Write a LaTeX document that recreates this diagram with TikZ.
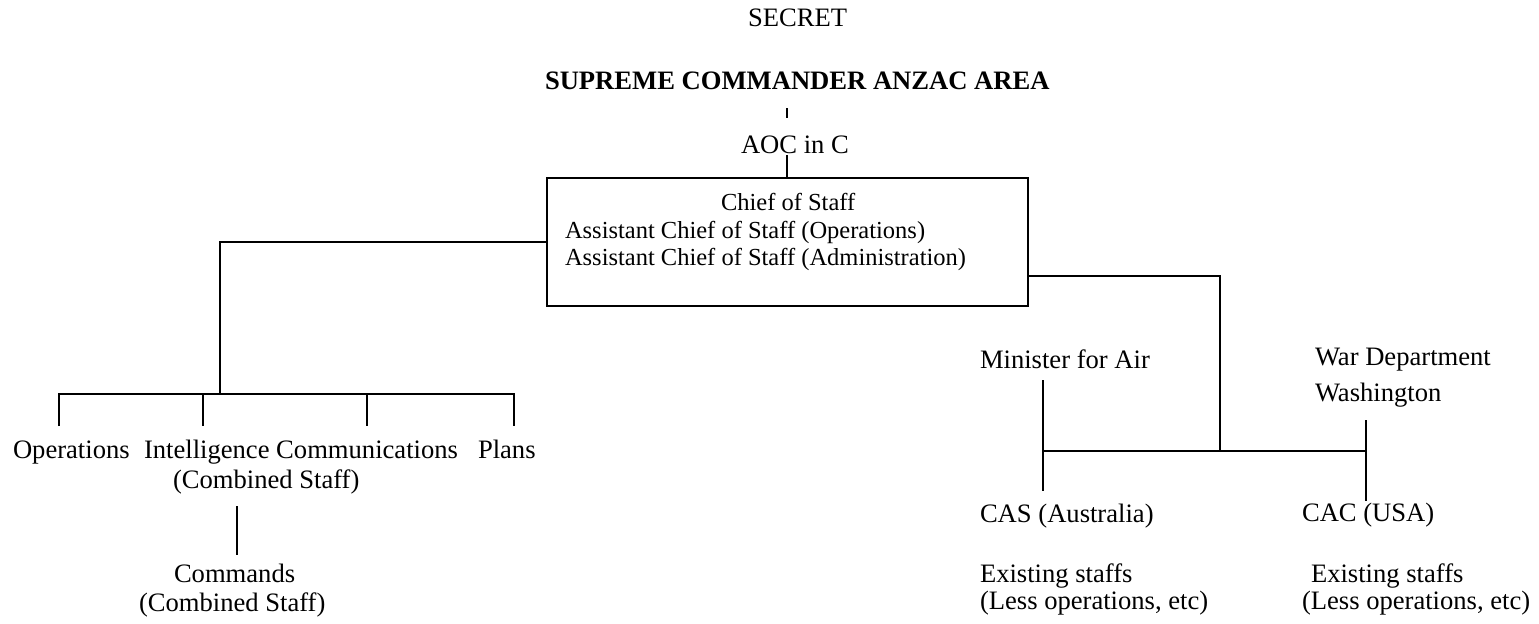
\documentclass[tikz,border=0pt]{standalone}
\usepackage{fontspec}
\setmainfont{Liberation Serif}
\begin{document}
\begin{tikzpicture}[x=0.5pt,y=-0.5pt,line width=1pt,
  lbl/.style={anchor=base west,inner sep=0pt,font=\fontsize{13.3}{15}\selectfont},
  boldlbl/.style={anchor=base west,inner sep=0pt,font=\fontsize{13.3}{15}\selectfont\bfseries},
  boxlbl/.style={anchor=base west,inner sep=0pt,font=\fontsize{12.25}{14}\selectfont},
  staffbox/.style={draw,line width=1pt,minimum width=240.5pt,minimum height=64pt,inner sep=0pt},
  conn/.style={draw,line width=1pt}]
\useasboundingbox (0,0) rectangle (1539,623);

% top texts
\node[lbl] (secret) at (747,26) {SECRET};
\node[boldlbl] (sca) at (544,89) {SUPREME COMMANDER ANZAC AREA};
\node[lbl] (aoc) at (740,153) {AOC in C};

% staff box
\node[staffbox] (cos) at (787.5,242) {};
\node[boxlbl] (chief) at (720,210) {Chief of Staff};
\node[boxlbl] (acso) at (564,238) {Assistant Chief of Staff (Operations)};
\node[boxlbl] (acsa) at (564,265) {Assistant Chief of Staff (Administration)};

% left branch texts
\node[lbl] (ops) at (12,458) {Operations};
\node[lbl] (intel) at (143,458) {Intelligence};
\node[lbl,anchor=base east] (comms) at (459,458) {Communications};
\node[lbl] (plans) at (477,458) {Plans};
\node[lbl] (comb1) at (172,488) {(Combined Staff)};
\node[lbl] (cmds) at (173,582) {Commands};
\node[lbl] (comb2) at (138,611) {(Combined Staff)};

% right branch texts
\node[lbl] (minister) at (979,368) {Minister for Air};
\node[lbl] (cas) at (979,522) {CAS (Australia)};
\node[lbl] (exa) at (979,582) {Existing staffs};
\node[lbl] (lessa) at (979,609) {(Less operations, etc)};
\node[lbl] (war) at (1314,365) {War Department};
\node[lbl] (wash) at (1314,401) {Washington};
\node[lbl] (cac) at (1301,521) {CAC (USA)};
\node[lbl] (exb) at (1310,582) {Existing staffs};
\node[lbl] (lessb) at (1301,609) {(Less operations, etc)};

% coordinates
\coordinate (scaB) at (787,108);
\coordinate (aocT) at (787,118);
\coordinate (aocB) at (787,155);
\coordinate (lj) at (220,394);
\coordinate (b1) at (59,394);
\coordinate (b2) at (203,394);
\coordinate (b3) at (367,394);
\coordinate (b4) at (514,394);
\coordinate (d1) at (59,426);
\coordinate (d2) at (203,426);
\coordinate (d3) at (367,426);
\coordinate (d4) at (514,426);
\coordinate (cmT) at (237,506);
\coordinate (cmB) at (237,555);
\coordinate (re) at (1028,276);
\coordinate (rj) at (1220,451);
\coordinate (mT) at (1043,380);
\coordinate (mJ) at (1043,451);
\coordinate (mB) at (1043,491);
\coordinate (wT) at (1366,420);
\coordinate (wJ) at (1366,451);
\coordinate (wB) at (1366,501);

% connectors
\draw[conn] (scaB) -- (aocT);
\draw[conn] (aocB) -- (aocB |- cos.north);
\draw[conn] (cos.west) -| (lj);
\draw[conn] (d1) -- (b1) -- (b4) -- (d4);
\draw[conn] (b2) -- (d2);
\draw[conn] (b3) -- (d3);
\draw[conn] (cmT) -- (cmB);
\draw[conn] (re) -| (rj);
\draw[conn] (mJ) -- (wJ);
\draw[conn] (mT) -- (mB);
\draw[conn] (wT) -- (wB);
\end{tikzpicture}
\end{document}
